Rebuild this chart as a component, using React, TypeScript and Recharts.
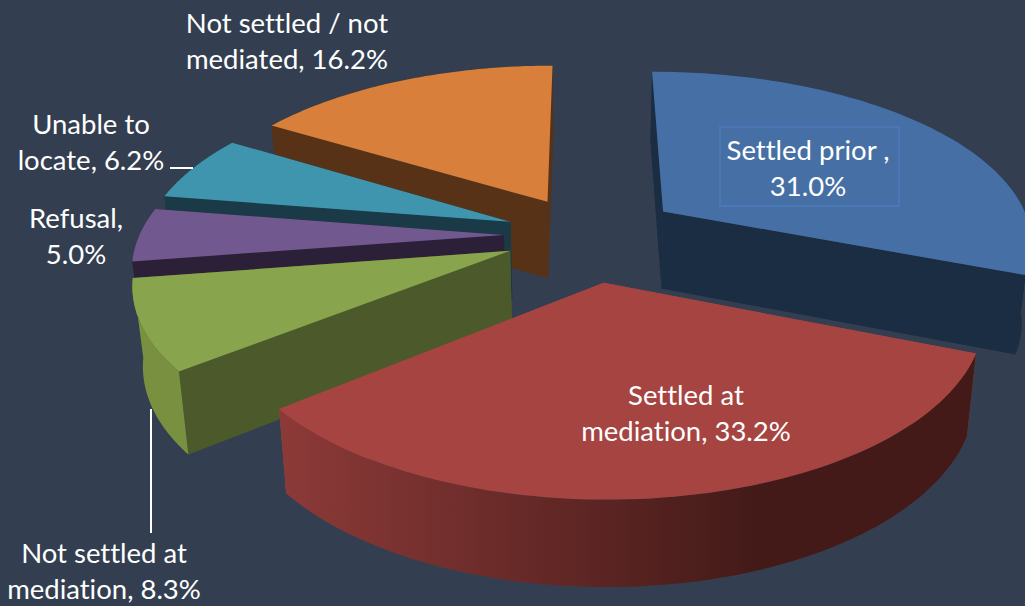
import { Pie, PieChart } from "recharts";

// drawn back to front, so the order differs from the legend order of the source
const names = [
  "Settled prior",
  "Not settled / not mediated",
  "Unable to locate",
  "Refusal",
  "Not settled at mediation",
  "Settled at mediation",
];
const shares = [31.0, 16.2, 6.2, 5.0, 8.3, 33.2];

const topColors = ["#4670a5", "#d77f3b", "#4095ae", "#71588f", "#88a44c", "#a64441"];
const sideColors = ["#1b2d42", "#573216", "#193a46", "#2c2038", "#4c5a2b", "#a64441"];
const rimColors = ["#1b2d42", "#573216", "#193a46", "#2c2038", "#789040", "url(#redRim)"];
const explode = [0.25, 0.23, 0.225, 0.226, 0.225, 0.27];
const sliceScale = [0.995, 0.985, 0.985, 0.98, 0.98, 0.962];

const labelLines = [
  ["Settled prior ,", "31.0%"],
  ["Not settled / not", "mediated, 16.2%"],
  ["Unable to", "locate, 6.2%"],
  ["Refusal,", "5.0%"],
  ["Not settled at", "mediation, 8.3%"],
  ["Settled at", "mediation, 33.2%"],
];
const labelSpots = [
  [808, 149],
  [287, 22],
  [91, 123],
  [76, 217],
  [104, 552],
  [686, 394],
];

const WIDTH = 1025;
const HEIGHT = 606;
const TILT = 0.46;
const PERSPECTIVE = 0.167;
const DEPTH = 78;
const LINE_HEIGHT = 36;

const data = names.map((name, i) => ({ name, value: shares[i], index: i }));

const project = (cx: number, cy: number, r: number, u: number, v: number) => {
  const w = 1 + PERSPECTIVE * v;
  return { x: cx + (r * u) / w, y: cy - (r * TILT * v) / w, w };
};

const lower = (cx: number, p: { x: number; y: number; w: number }) => ({
  x: cx + (p.x - cx) * 0.977,
  y: p.y + DEPTH / Math.sqrt(p.w),
});

const toPath = (pts: { x: number; y: number }[]) =>
  "M" + pts.map((p) => `${p.x.toFixed(1)},${p.y.toFixed(1)}`).join("L") + "Z";

const Slice = (props: any) => {
  const { cx, cy, outerRadius, startAngle, endAngle, payload } = props;
  const i = payload.index;
  const rad = Math.PI / 180;
  const mid = ((startAngle + endAngle) / 2) * rad;
  const ou = explode[i] * Math.cos(mid);
  const ov = explode[i] * Math.sin(mid);
  const apex = project(cx, cy, outerRadius, ou, ov);
  const arc = [];
  for (let s = 0; s <= 80; s++) {
    const a = (startAngle + ((endAngle - startAngle) * s) / 80) * rad;
    arc.push(
      project(cx, cy, outerRadius, ou + sliceScale[i] * Math.cos(a), ov + sliceScale[i] * Math.sin(a))
    );
  }
  const first = arc[0];
  const last = arc[arc.length - 1];
  const apexLow = lower(cx, apex);
  return (
    <g>
      <defs>
        <linearGradient id="redRim" gradientUnits="userSpaceOnUse" x1="280" y1="0" x2="760" y2="0">
          <stop offset="0%" stopColor="#8c3a38" />
          <stop offset="100%" stopColor="#431a18" />
        </linearGradient>
      </defs>
      <path d={toPath([apex, first, lower(cx, first), apexLow])} fill={sideColors[i]} />
      <path d={toPath([apex, last, lower(cx, last), apexLow])} fill={sideColors[i]} />
      <path d={toPath([...arc, ...arc.map((p) => lower(cx, p)).reverse()])} fill={rimColors[i]} />
      <path d={toPath([apex, ...arc])} fill={topColors[i]} />
    </g>
  );
};

const SliceLabel = (props: any) => {
  const i = props.index;
  const [x, y] = labelSpots[i];
  return (
    <g>
      {i === 0 && <rect x={720} y={127} width={179} height={79} fill="none" stroke="#4a78b5" strokeWidth={2} />}
      {i === 2 && <line x1={170} y1={168} x2={193} y2={168} stroke="#ffffff" strokeWidth={2} />}
      {i === 4 && <line x1={151} y1={409} x2={151} y2={533} stroke="#ffffff" strokeWidth={2} />}
      <text
        x={x}
        y={y}
        textAnchor="middle"
        dominantBaseline="central"
        fill="#ffffff"
        fontFamily="Lato"
        fontSize={27.5}
        style={{ fontVariantLigatures: "none" }}
      >
        {labelLines[i].map((line, k) => (
          <tspan key={line} x={x} dy={k === 0 ? 0 : LINE_HEIGHT}>
            {line}
          </tspan>
        ))}
      </text>
    </g>
  );
};

const App = () => (
  <div style={{ position: "absolute", left: 0, top: 0, width: WIDTH, height: HEIGHT, background: "#333f50", overflow: "hidden" }}>
    <PieChart width={WIDTH} height={HEIGHT} margin={{ top: 0, right: 0, bottom: 0, left: 0 }}>
      <Pie
        data={data}
        dataKey="value"
        nameKey="name"
        cx={588}
        cy={235}
        innerRadius={0}
        outerRadius={372}
        startAngle={-21.6}
        endAngle={338.4}
        stroke="none"
        shape={Slice}
        label={SliceLabel}
        labelLine={false}
        isAnimationActive={false}
      />
    </PieChart>
  </div>
);

export default App;
